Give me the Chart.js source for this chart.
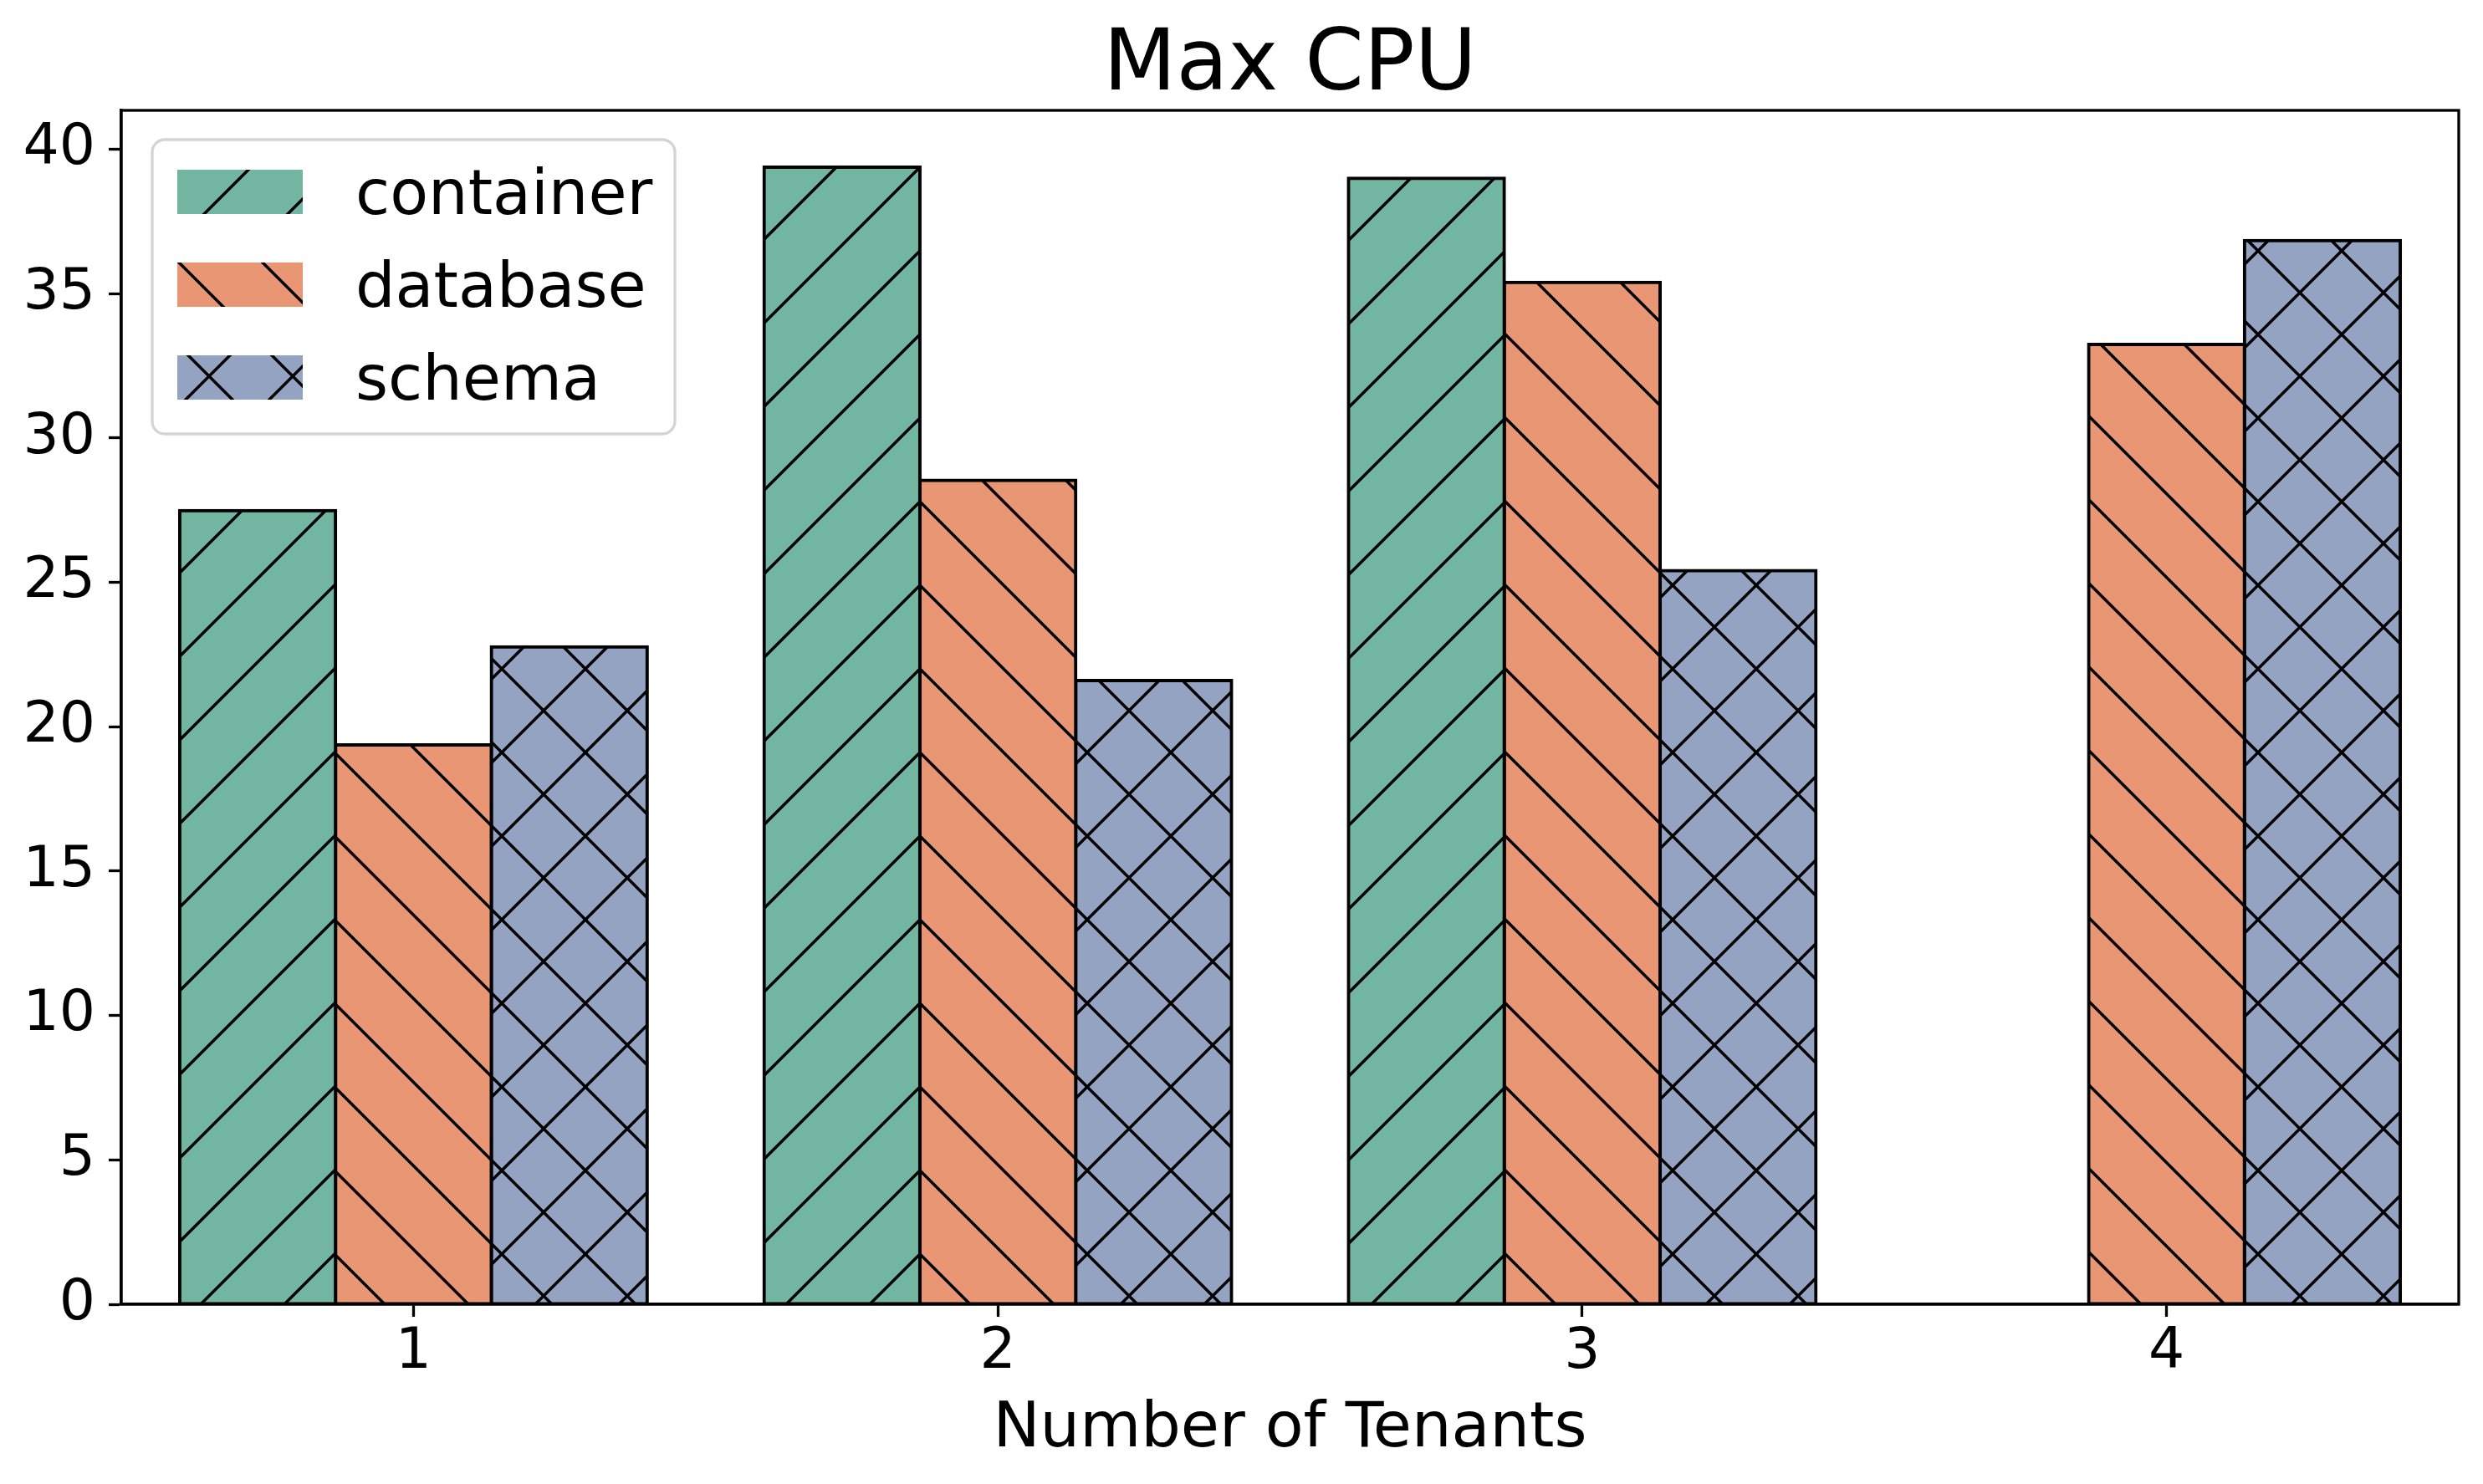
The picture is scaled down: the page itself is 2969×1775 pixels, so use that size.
<!DOCTYPE html>
<html>
<head>
<meta charset="utf-8">
<title>Max CPU</title>
<script src="https://cdn.jsdelivr.net/npm/chart.js@4.4.1/dist/chart.umd.min.js"></script>
<style>
    html, body { margin: 0; padding: 0; background: #fff; }
    #wrap { width: 2969px; height: 1775px; }
</style>
</head>
<body>
<div id="wrap"><canvas id="maxCpuChart" width="2969" height="1775"></canvas></div>
<script>
// === Dữ liệu ===
const tenants = ['1', '2', '3', '4'];
const containerCpu = [27.49, 39.38, 39.0, null];
const databaseCpu = [19.37, 28.54, 35.39, 33.24];
const schemaCpu = [22.77, 21.6, 25.41, 36.84];
const seriesNames = ['container', 'database', 'schema'];
const yTickValues = [0, 5, 10, 15, 20, 25, 30, 35, 40];

const FONT = '"DejaVu Sans", Verdana, sans-serif';

// hatch tile, anchored to the canvas origin like matplotlib's figure origin
function hatchPattern(fill, kind) {
    const size = 100;
    const c = document.createElement('canvas');
    c.width = size;
    c.height = size;
    const g = c.getContext('2d');
    g.fillStyle = fill;
    g.fillRect(0, 0, size, size);
    g.strokeStyle = '#000';
    g.lineWidth = 3.5;
    g.beginPath();
    if (kind === '/' || kind === 'x') {
        g.moveTo(-10, size + 10); g.lineTo(size + 10, -10);
        g.moveTo(-10, 10); g.lineTo(10, -10);
        g.moveTo(size - 10, size + 10); g.lineTo(size + 10, size - 10);
    }
    if (kind === '\\' || kind === 'x') {
        g.moveTo(-10, -10); g.lineTo(size + 10, size + 10);
        g.moveTo(size - 10, -10); g.lineTo(size + 10, 10);
        g.moveTo(-10, size - 10); g.lineTo(10, size + 10);
    }
    g.stroke();
    return g.createPattern(c, 'repeat');
}

// spines, title, x label and the hatched legend
const framePlugin = {
    id: 'frame',
    afterDraw(chart) {
        const { ctx, chartArea: a } = chart;
        ctx.save();
        ctx.strokeStyle = '#000';
        ctx.lineWidth = 3.3;
        ctx.strokeRect(a.left, a.top, a.right - a.left, a.bottom - a.top);

        const cx = (a.left + a.right) / 2;
        ctx.fillStyle = '#000';
        ctx.textAlign = 'center';
        ctx.textBaseline = 'alphabetic';
        ctx.font = `101px ${FONT}`;
        ctx.fillText('Max CPU', cx, a.top - 25);
        ctx.font = `75px ${FONT}`;
        ctx.fillText('Number of Tenants', cx, a.bottom + 170);

        // legend
        const lx = a.left + 37, ly = a.top + 35;
        ctx.beginPath();
        ctx.roundRect(lx, ly, 625, 352, 15);
        ctx.fillStyle = 'rgba(255,255,255,0.8)';
        ctx.fill();
        ctx.lineWidth = 3.3;
        ctx.strokeStyle = 'rgba(204,204,204,0.85)';
        ctx.stroke();
        ctx.textAlign = 'left';
        ctx.font = `75px ${FONT}`;
        chart.data.datasets.forEach((ds, i) => {
            const top = ly + 36 + i * 111;
            ctx.fillStyle = ds.backgroundColor;
            ctx.fillRect(lx + 30, top, 150, 53);
            ctx.fillStyle = '#000';
            ctx.fillText(ds.label, lx + 243, top + 53);
        });
        ctx.restore();
    }
};

const ctx = document.getElementById('maxCpuChart').getContext('2d');
new Chart(ctx, {
    type: 'bar',
    data: {
        labels: tenants,
        datasets: [
            { label: seriesNames[0], data: containerCpu, backgroundColor: hatchPattern('#72b6a1', '/') },
            { label: seriesNames[1], data: databaseCpu, backgroundColor: hatchPattern('#e99675', '\\') },
            { label: seriesNames[2], data: schemaCpu, backgroundColor: hatchPattern('#95a3c3', 'x') }
        ]
    },
    options: {
        responsive: false,
        animation: false,
        devicePixelRatio: 1,
        layout: { padding: { top: 132, right: 29, left: 0, bottom: 0 } },
        datasets: {
            bar: {
                categoryPercentage: 0.8,
                barPercentage: 1.0,
                borderColor: '#000',
                borderWidth: 4,
                borderSkipped: false,
                inflateAmount: 2
            }
        },
        scales: {
            x: {
                grid: { offset: false, drawOnChartArea: false, drawTicks: true, tickLength: 15, tickColor: '#000', tickWidth: 3.3 },
                border: { display: true, color: '#000', width: 3.3 },
                ticks: { padding: 3, color: '#000', font: { family: FONT, size: 68 } },
                afterFit(scale) { scale.height = 215; }
            },
            y: {
                min: 0,
                max: 41.35,
                grid: { drawOnChartArea: false, drawTicks: true, tickLength: 15, tickColor: '#000', tickWidth: 3.3 },
                border: { display: true, color: '#000', width: 3.3 },
                ticks: { padding: 16, color: '#000', font: { family: FONT, size: 68 } },
                afterBuildTicks(scale) { scale.ticks = yTickValues.map(v => ({ value: v })); },
                afterFit(scale) { scale.width = 145; }
            }
        },
        plugins: {
            legend: { display: false },
            tooltip: { enabled: false },
            title: { display: false }
        }
    },
    plugins: [framePlugin]
});
</script>
</body>
</html>
